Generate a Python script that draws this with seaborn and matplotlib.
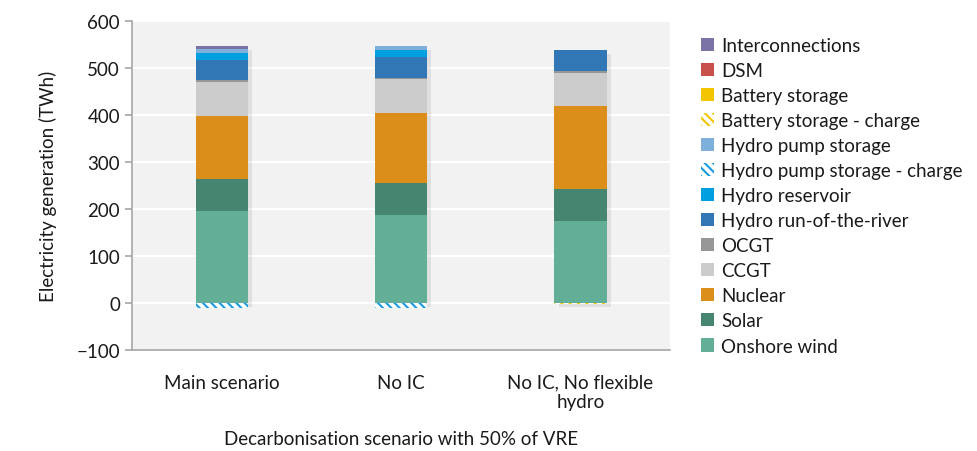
import matplotlib
matplotlib.use("Agg")
import matplotlib.pyplot as plt
import matplotlib.patheffects as pe
from matplotlib.patches import Patch
import seaborn as sns
import pandas as pd
import numpy as np

scenarios = ["Main scenario", "No IC", "No IC, No flexible\nhydro"]

# generation layers, bottom to top (TWh)
onshore_wind = [196, 187, 174]
solar = [68, 69, 68]
nuclear = [134, 149, 177]
ccgt = [73, 72, 70]
ocgt = [3, 3, 5]
hydro_ror = [43, 43, 44]
hydro_reservoir = [16, 16, 0]
hydro_pump = [7, 9, 0]
battery = [0, 0, 1]
dsm = [0, 0, 0]
interconnections = [7, 0, 0]

# charging (negative)
hydro_pump_charge = [-10, -10, 0]
battery_charge = [0, 0, -2]

layers = [
    ("Onshore wind", onshore_wind, "#62ae96"),
    ("Solar", solar, "#468570"),
    ("Nuclear", nuclear, "#dc8e1a"),
    ("CCGT", ccgt, "#cccccc"),
    ("OCGT", ocgt, "#969696"),
    ("Hydro run-of-the-river", hydro_ror, "#3277b5"),
    ("Hydro reservoir", hydro_reservoir, "#00a0e0"),
    ("Hydro pump storage", hydro_pump, "#7fb0dc"),
    ("Battery storage", battery, "#f2c500"),
    ("DSM", dsm, "#c8504a"),
    ("Interconnections", interconnections, "#7b72a6"),
]
neg = [("Hydro pump storage - charge", hydro_pump_charge, "#1a9ae0"),
       ("Battery storage - charge", battery_charge, "#f2c500")]

plt.rcParams["font.family"] = ["Lato", "DejaVu Sans"]
plt.rcParams["hatch.linewidth"] = 1.5
text_color = "#1a1a1a"
fs = 13.5

fig = plt.figure(figsize=(9.77, 4.52), dpi=100)
ax = fig.add_axes([0.135, 0.2235, 0.551, 0.7275])
ax.set_facecolor("#f2f2f2")

shadow = [pe.SimplePatchShadow(offset=(3, -3), shadow_rgbFace="k", alpha=0.08), pe.Normal()]
bar_w = 0.29

# cumulative tops, drawn tallest first so lower layers sit on top
cum = np.cumsum(np.array([v for _, v, _ in layers]), axis=0)
for i in range(len(layers) - 1, -1, -1):
    name, _, color = layers[i]
    df = pd.DataFrame({"scenario": scenarios, "value": cum[i]})
    sns.barplot(data=df, x="scenario", y="value", order=scenarios, color=color,
                width=bar_w, errorbar=None, saturation=1, ax=ax, linewidth=0)
    if i == len(layers) - 1:
        for p in ax.patches:
            p.set_path_effects(shadow)

# negative charging bars with hatch
cum_neg = np.cumsum(np.array([v for _, v, _ in neg]), axis=0)
for i in range(len(neg) - 1, -1, -1):
    name, vals, color = neg[i]
    df = pd.DataFrame({"scenario": scenarios, "value": cum_neg[i]})
    n0 = len(ax.patches)
    sns.barplot(data=df, x="scenario", y="value", order=scenarios, color="white",
                width=bar_w, errorbar=None, saturation=1, ax=ax, linewidth=0)
    for p, v in zip(ax.patches[n0:], vals):
        p.set_hatch("\\\\\\\\")
        p.set_edgecolor(color)
        if v == 0:
            p.set_visible(False)

ax.set_ylim(-100, 600)
ax.set_xlim(-0.5, 2.5)
ax.set_yticks(range(-100, 601, 100))
ax.yaxis.grid(True, color="white", linewidth=1.5)
ax.set_axisbelow(True)
for s in ["top", "right"]:
    ax.spines[s].set_visible(False)
for s in ["left", "bottom"]:
    ax.spines[s].set_color("#a6a6a6")
    ax.spines[s].set_linewidth(1.2)
ax.tick_params(axis="y", colors="#a6a6a6", labelcolor=text_color, labelsize=fs, length=5, width=1.2)
ax.tick_params(axis="x", length=0, labelcolor=text_color, labelsize=fs, pad=17)
ax.set_xlabel("Decarbonisation scenario with 50% of VRE", fontsize=fs, color=text_color, labelpad=14)
ax.set_ylabel("Electricity generation (TWh)", fontsize=fs, color=text_color, labelpad=14)

# legend
handles = []
legend_order = ["Interconnections", "DSM", "Battery storage", "Battery storage - charge",
                "Hydro pump storage", "Hydro pump storage - charge", "Hydro reservoir",
                "Hydro run-of-the-river", "OCGT", "CCGT", "Nuclear", "Solar", "Onshore wind"]
colors = {n: c for n, _, c in layers}
neg_colors = {n: c for n, _, c in neg}
for n in legend_order:
    if n in neg_colors:
        handles.append(Patch(facecolor="white", edgecolor=neg_colors[n], hatch="\\\\\\\\",
                             linewidth=0, label=n))
    else:
        handles.append(Patch(facecolor=colors[n], label=n))
fig.legend(handles=handles, loc="upper left", bbox_to_anchor=(0.71, 0.933), frameon=False,
           fontsize=fs, handlelength=0.7, handleheight=0.7, handletextpad=0.35,
           labelspacing=0.43, borderaxespad=0, labelcolor=text_color)

fig.savefig("out.png", dpi=100, facecolor="white")
